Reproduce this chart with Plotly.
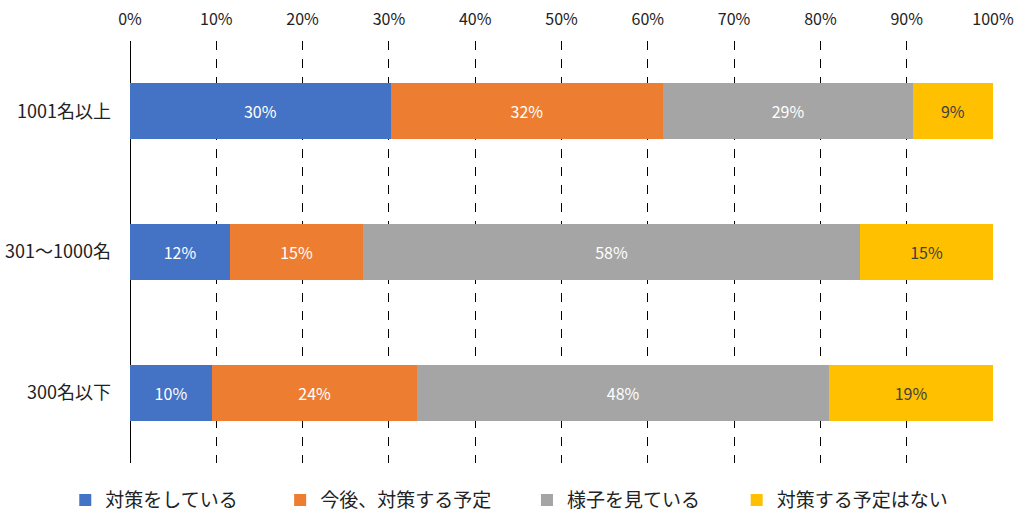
import plotly.graph_objects as go

categories = ["1001名以上", "301～1000名", "300名以下"]
series_names = ["対策をしている", "今後、対策する予定", "様子を見ている", "対策する予定はない"]
colors = ["#4472C4", "#ED7D31", "#A5A5A5", "#FFC000"]
text_colors = ["white", "white", "white", "#404040"]

# share per category (%)
doing = [30.2, 11.6, 9.5]
planned = [31.6, 15.4, 23.8]
watching = [28.9, 57.6, 47.7]
no_plan = [9.3, 15.4, 19.0]

values = [doing, planned, watching, no_plan]

# one legend per series so the entries sit where the original has them
legend_ids = ["legend", "legend2", "legend3", "legend4"]
legend_x = [-0.075, 0.174, 0.460, 0.703]

fig = go.Figure()
for name, vals, col, tcol, lid in zip(series_names, values, colors, text_colors, legend_ids):
    fig.add_trace(go.Bar(
        y=categories, x=vals, name=name, orientation="h",
        marker=dict(color=col, line=dict(width=0)),
        text=[f"{round(v)}%" for v in vals],
        textposition="inside", insidetextanchor="middle",
        textfont=dict(color=tcol, size=16),
        legend=lid,
    ))

legend_style = dict(orientation="h", yref="container", y=0.040, yanchor="middle",
                    xanchor="left", font=dict(size=19, color="#222222"),
                    itemwidth=30, bgcolor="rgba(0,0,0,0)")

fig.update_layout(
    barmode="stack",
    bargap=0.6,
    width=1018, height=521,
    margin=dict(l=130, r=25, t=41, b=58),
    paper_bgcolor="white", plot_bgcolor="white",
    font=dict(family="Noto Sans CJK JP", size=16, color="#222222"),
    showlegend=True,
    uniformtext=dict(mode="show", minsize=10),
)
for lid, lx in zip(legend_ids, legend_x):
    fig.update_layout({lid: dict(legend_style, x=lx)})

fig.update_xaxes(
    side="top", range=[0, 100], dtick=10, ticksuffix="%",
    showgrid=True, gridcolor="black", griddash="dash", gridwidth=1,
    zeroline=True, zerolinecolor="black", zerolinewidth=1,
    tickfont=dict(size=16), automargin=False, ticklabelstandoff=12,
    ticklabeloverflow="allow",
)
fig.update_yaxes(
    categoryorder="array", categoryarray=categories[::-1],
    showgrid=False, ticks="", ticklabelstandoff=18,
    tickfont=dict(size=18), automargin=False, ticklabeloverflow="allow",
)

# the page body has a default 8px margin; drop it so the figure fills the window
fig.write_html("out.html", config={"displayModeBar": False},
               post_script="document.body.style.margin = '0';")
